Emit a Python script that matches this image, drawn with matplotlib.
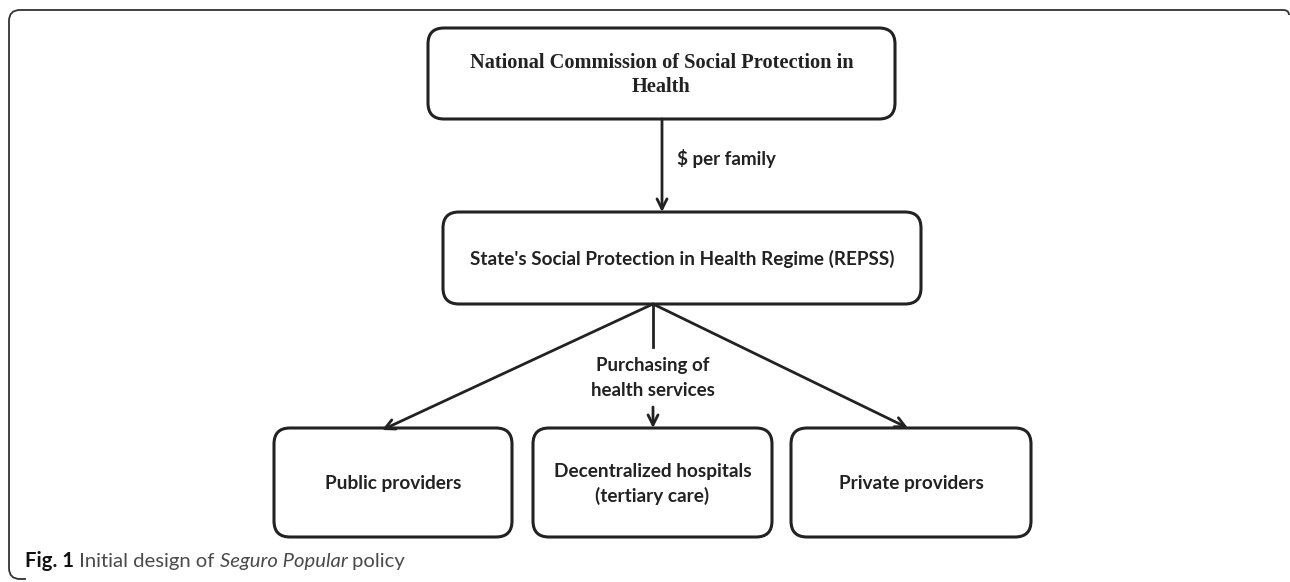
import matplotlib
matplotlib.use("Agg")
import matplotlib.pyplot as plt
from matplotlib.patches import FancyBboxPatch, PathPatch
from matplotlib.path import Path

# box texts
top_label = "National Commission of Social Protection in\nHealth"
mid_label = "State's Social Protection in Health Regime (REPSS)"
bottom_labels = ["Public providers", "Decentralized hospitals\n(tertiary care)", "Private providers"]
flow_labels = ["$ per family", "Purchasing of\nhealth services"]
caption_parts = [("Fig. 1", "bold", "normal", "#111111"),
                 (" Initial design of ", "normal", "normal", "#4a4a4a"),
                 ("Seguro Popular", "normal", "italic", "#4a4a4a"),
                 (" policy", "normal", "normal", "#4a4a4a")]

# layout in pixels (x0, y0, x1, y1), y goes down
top_box = (428, 28, 895, 119)
mid_box = (443, 212, 921, 304)
bottom_boxes = [(274, 428, 512, 537), (533, 428, 772, 537), (791, 428, 1031, 537)]
junction = (653, 304)

edge = "#222222"
sans = ["Lato", "DejaVu Sans"]

fig = plt.figure(figsize=(12.9, 5.82), dpi=100)
ax = fig.add_axes([0, 0, 1, 1])
ax.set_xlim(0, 1290)
ax.set_ylim(582, 0)
ax.axis("off")

# outer frame, open to the right and bottom
verts = [(1289, 15), (1289, 10), (1283, 10),
         (20, 10), (9, 10), (9, 21),
         (9, 568), (9, 579), (20, 579), (26, 579)]
codes = [Path.MOVETO, Path.CURVE3, Path.CURVE3,
         Path.LINETO, Path.CURVE3, Path.CURVE3,
         Path.LINETO, Path.CURVE3, Path.CURVE3, Path.LINETO]
ax.add_patch(PathPatch(Path(verts, codes), fc="none", ec="#333333", lw=1.3))


def box(b, r=16):
    x0, y0, x1, y1 = b
    p = FancyBboxPatch((x0, y0), x1 - x0, y1 - y0, boxstyle="round,pad=0,rounding_size=%d" % r,
                       fc="white", ec=edge, lw=2.2)
    ax.add_patch(p)
    return (x0 + x1) / 2, (y0 + y1) / 2


cx, cy = box(top_box)
ax.text(cx, 75, top_label, ha="center", va="center", fontsize=14.7,
        family="Liberation Serif", weight="bold", color="#222222", linespacing=1.3)

cx, cy = box(mid_box)
ax.text(cx, cy + 1, mid_label, ha="center", va="center", fontsize=13.6,
        family=sans, weight="bold", color="#222222")

for b, lab in zip(bottom_boxes, bottom_labels):
    cx, cy = box(b)
    ax.text(cx, 484, lab, ha="center", va="center", fontsize=13.7,
            family=sans, weight="bold", color="#222222", linespacing=1.45)

arrow = dict(arrowstyle="->", lw=2, color=edge, shrinkA=0, shrinkB=0, mutation_scale=18)

# top -> middle
ax.annotate("", xy=(662, mid_box[1]), xytext=(662, top_box[3]), arrowprops=arrow)
ax.text(677, 158, flow_labels[0], ha="left", va="center", fontsize=13.5,
        family=sans, weight="bold", color="#222222")

# middle -> bottom boxes
ax.annotate("", xy=(382, 430), xytext=junction, arrowprops=arrow)
ax.annotate("", xy=(908, 428), xytext=junction, arrowprops=arrow)
ax.plot([junction[0], junction[0]], [junction[1], 347], color=edge, lw=2)
ax.annotate("", xy=(junction[0], 428), xytext=(junction[0], 407), arrowprops=arrow)
ax.text(junction[0], 378, flow_labels[1], ha="center", va="center", fontsize=13.5,
        family=sans, weight="bold", color="#222222", linespacing=1.5)

# caption with mixed styles
fig.canvas.draw()
renderer = fig.canvas.get_renderer()
x = 25
for txt, w, st, col in caption_parts:
    t = ax.text(x, 561, txt, ha="left", va="center", fontsize=14.6, family=sans,
                weight=w, style=st, color=col)
    bb = t.get_window_extent(renderer)
    x += bb.width

fig.savefig("out.png", dpi=100)
